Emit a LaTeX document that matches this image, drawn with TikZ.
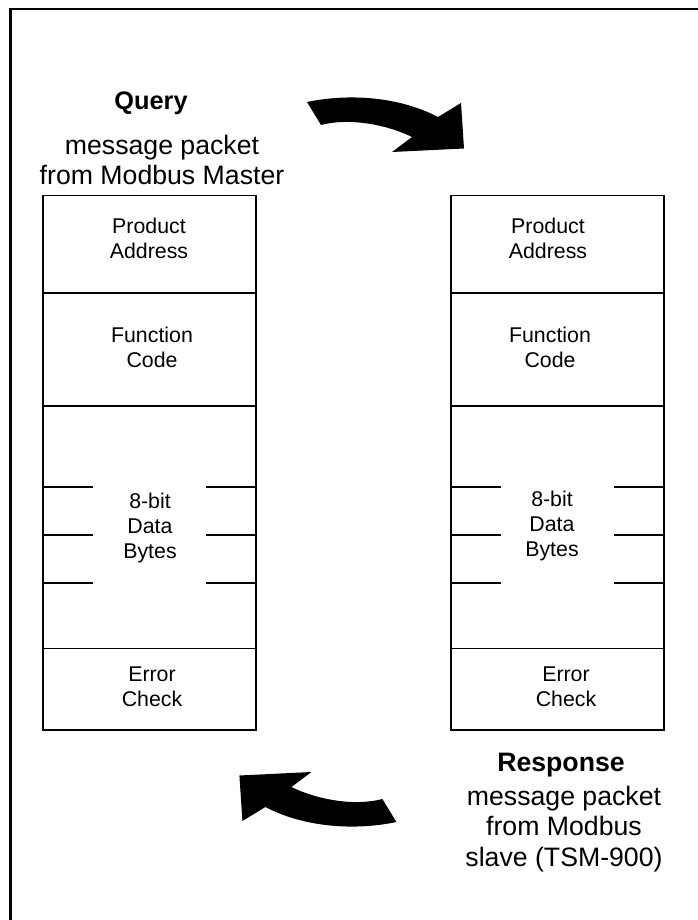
\documentclass[tikz,border=0pt]{standalone}
\usepackage{fontspec}
\setmainfont{Liberation Sans}

\tikzset{every picture/.style={line width=0.75pt}}
\tikzset{
  frame/.style={line width=1.9pt},
  packet/.style={line width=1pt},
  field/.style={font=\fontsize{16}{18.75}\selectfont, align=center, inner sep=0pt},
  caption/.style={font=\fontsize{20}{23}\selectfont, align=center, inner sep=0pt},
  bigarrow/.style={fill=black, draw=none}
}

\begin{document}
\begin{tikzpicture}[x=0.75pt,y=0.75pt,yscale=-1,xscale=1]
\useasboundingbox (0,0) rectangle (698,920);

%Straight Lines (frame, top and left only)
\draw [frame]  (698,9) -- (10.5,9) -- (10.5,920) ;

%Shape: Rectangles (the two packets)
\foreach \x in {43,451}{
  \draw [packet]  (\x,195.5) rectangle ++(213,534.5) ;
  \draw [packet]  (\x,293) -- ++(213,0) ;
  \draw [packet]  (\x,406) -- ++(213,0) ;
  \draw [packet]  (\x,648.5) -- ++(213,0) ;
  % byte ticks
  \foreach \y in {487,535,583}{
    \draw [packet]  (\x,\y) -- ++(50,0) ;
    \draw [packet]  (\x+163,\y) -- ++(50,0) ;
  }
}

%Shape: Curved arrow (query)
\draw [bigarrow]  (307,102) .. controls (350,93) and (400,97) .. (438,117) -- (461,103) -- (464,148.5) -- (392,152) -- (412,137) .. controls (390,126) and (352,117) .. (321,125) -- cycle ;
%Shape: Curved arrow (response)
\draw [bigarrow, rotate around={180:(351.7,462)}]  (307,102) .. controls (350,93) and (400,97) .. (438,117) -- (461,103) -- (464,148.5) -- (392,152) -- (412,137) .. controls (390,126) and (352,117) .. (321,125) -- cycle ;

% Text Node
\node [caption, font=\fontsize{19}{23}\selectfont\bfseries] (querytitle) at (151,103) {Query};
% Text Node
\node [caption] (querytext) at (162,160) {message packet\\from Modbus Master};
% Text Node
\node [caption, font=\fontsize{20}{23}\selectfont\bfseries] (resptitle) at (561,765) {Response};
% Text Node
\node [caption] (resptext) at (564,829) {message packet\\from Modbus\\slave (TSM-900)};

% Text Node
\node [field] (qaddr) at (149,238) {Product\\Address};
% Text Node
\node [field] (qfunc) at (152,347) {Function\\Code};
% Text Node
\node [field] (qdata) at (150,528) {8-bit\\Data\\Bytes};
% Text Node
\node [field] (qerr) at (152,687) {Error\\Check};
% Text Node
\node [field] (raddr) at (548,238) {Product\\Address};
% Text Node
\node [field] (rfunc) at (550,347) {Function\\Code};
% Text Node
\node [field] (rdata) at (552,526) {8-bit\\Data\\Bytes};
% Text Node
\node [field] (rerr) at (566,687) {Error\\Check};

\end{tikzpicture}
\end{document}
